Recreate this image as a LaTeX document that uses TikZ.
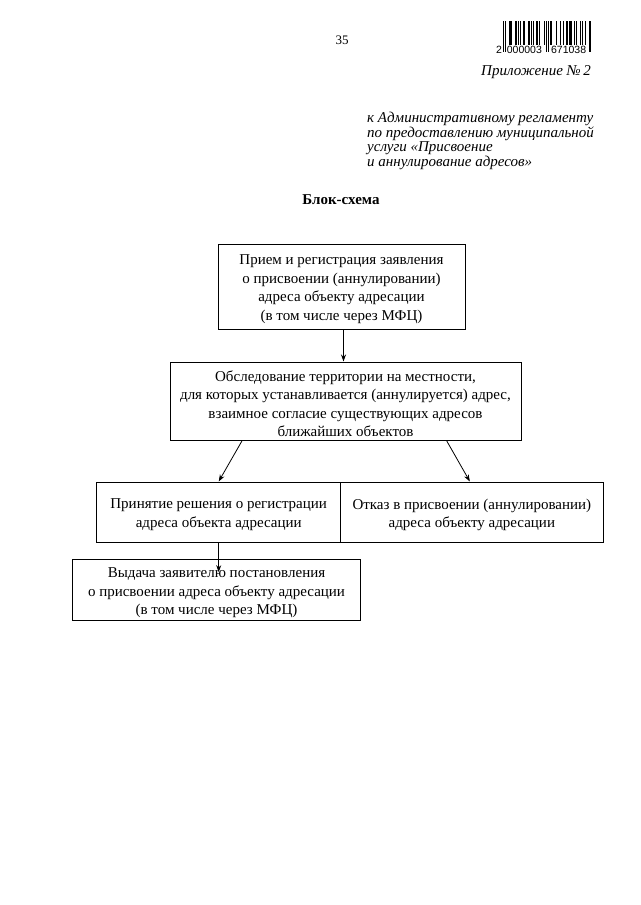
\documentclass[tikz,border=0pt]{standalone}
\usepackage{fontspec}
\setmainfont{Liberation Serif}
\newfontfamily\barfont{Liberation Sans}
\usetikzlibrary{arrows.meta}
\begin{document}
\begin{tikzpicture}[x=1pt,y=-1pt,
  box/.style={draw, line width=1pt, inner sep=0pt},
  boxtext/.style={inner sep=0pt, align=center, font=\fontsize{15}{18.5}\selectfont},
  arr/.style={line width=0.8pt, -{Stealth[length=7pt,width=5pt]}},
  hdr/.style={inner sep=0pt, font=\fontsize{15}{14.5}\selectfont\itshape},
  digits/.style={inner sep=0pt, font=\barfont\fontsize{10.5}{10}\selectfont}]
\useasboundingbox[fill=white] (0,0) rectangle (640,905);

% page number
\node[inner sep=0pt, font=\fontsize{13}{13}\selectfont] (pn) at (342,40) {35};

% barcode (EAN-13 2000003671038)
\foreach \b [count=\i from 0] in {1,0,1,
  0,0,0,1,1,0,1, 0,0,0,1,1,0,1, 0,1,0,0,1,1,1, 0,0,0,1,1,0,1, 0,1,0,0,1,1,1, 0,1,0,0,0,0,1,
  0,1,0,1,0,
  1,0,1,0,0,0,0, 1,0,0,0,1,0,0, 1,1,0,0,1,1,0, 1,1,1,0,0,1,0, 1,0,0,0,0,1,0, 1,0,0,1,0,0,0,
  1,0,1}{
  \ifnum\b=1
    \pgfmathsetmacro{\bx}{503+\i*0.93}
    \pgfmathsetmacro{\by}{(\i<3 || (\i>44 && \i<50) || \i>91) ? 52 : 45}
    \fill (\bx,21) rectangle (\bx+0.93,\by);
  \fi
}
\node[digits] (d1) at (499,50) {2};
\node[digits] (d2) at (524.4,50) {000003};
\node[digits] (d3) at (568.6,50) {671038};

% annex header
\node[hdr, anchor=east] (app) at (591,72) {Приложение №\,2};
\node[hdr, anchor=north west, align=left] (reg) at (367,112)
  {к Административному регламенту\\
   по предоставлению муниципальной\\
   услуги «Присвоение\\
   и аннулирование адресов»};

% title
\node[inner sep=0pt, font=\fontsize{15}{15}\selectfont\bfseries] (title) at (341,200) {Блок-схема};

% boxes
\node[box, minimum width=247pt, minimum height=85pt] (b1) at (341.5,286.5) {};
\node[boxtext] (t1) at ([yshift=-2.5pt]b1.center)
  {Прием и регистрация заявления\\ о присвоении (аннулировании)\\ адреса объекту адресации\\ (в том числе через МФЦ)};
\node[box, minimum width=351pt, minimum height=78pt] (b2) at (345.5,401) {};
\node[boxtext] (t2) at ([yshift=-2.5pt]b2.center)
  {Обследование территории на местности,\\ для которых устанавливается (аннулируется) адрес,\\ взаимное согласие существующих адресов\\ ближайших объектов};
\node[box, minimum width=244pt, minimum height=60.5pt] (b3) at (218.7,512.25) {};
\node[boxtext] (t3) at ([yshift=-2.5pt]b3.center)
  {Принятие решения о регистрации\\ адреса объекта адресации};
\node[box, minimum width=262.3pt, minimum height=60.5pt] (b4) at (471.85,512.25) {};
\node[boxtext] (t4) at ([yshift=-2.5pt]b4.center)
  {Отказ в присвоении (аннулировании)\\ адреса объекту адресации};
\node[box, minimum width=288pt, minimum height=60.7pt] (b5) at (216.5,590.3) {};
\node[boxtext] (t5) at ([yshift=-2.5pt]b5.center)
  {Выдача заявителю постановления\\ о присвоении адреса объекту адресации\\ (в том числе через МФЦ)};

% connectors
\draw[arr] ([xshift=2pt]b1.south) -- ([xshift=2pt]b1.south |- b2.north);
\draw[arr] ([xshift=72.7pt]b2.south west) -- (b3.north);
\draw[arr] ([xshift=-75pt]b2.south east) -- ([xshift=-2pt]b4.north);
\coordinate (e5) at ([yshift=-12.7pt]b3.south |- b5.north);
\draw[arr] (b3.south) -- (e5);
\end{tikzpicture}
\end{document}
